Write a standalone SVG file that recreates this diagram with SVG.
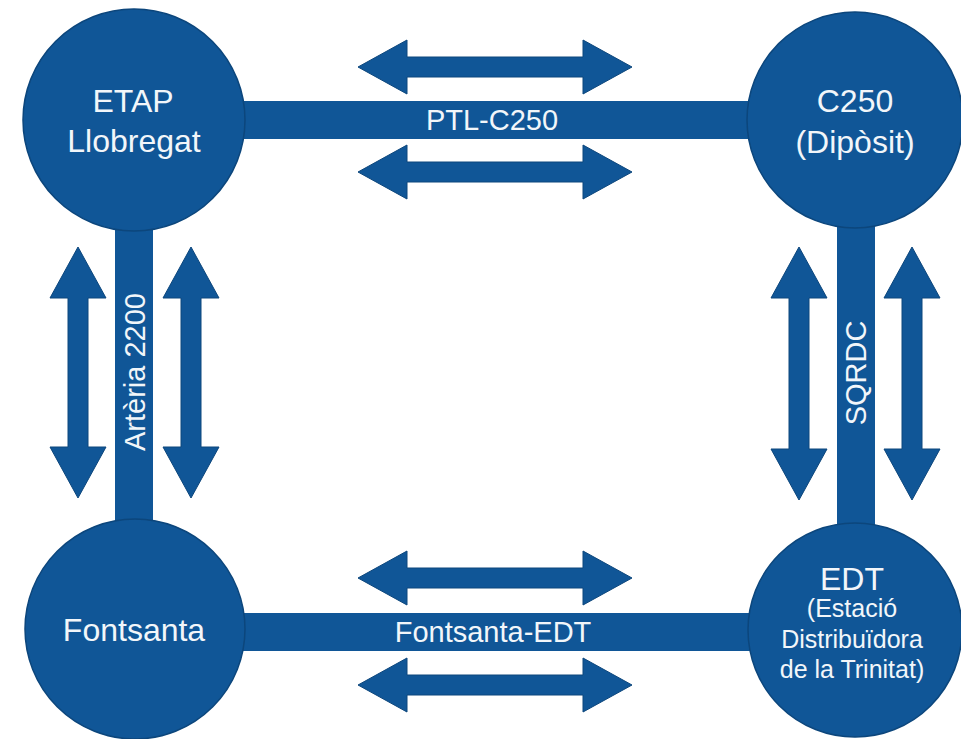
<svg xmlns="http://www.w3.org/2000/svg" width="961" height="739" viewBox="0 0 961 739">
<style>
.fill{fill:#105697}
.node{fill:#105697;stroke:#0c467c;stroke-width:1.5}
.arrow{fill:#105697;stroke:#0c467c;stroke-width:1}
.t{fill:#f2f6fa;font-family:"Liberation Sans",Arial,sans-serif;text-anchor:middle}
.big{font-size:32px}
.mid{font-size:25px}
.lab{font-size:29px}
</style>
<rect width="961" height="739" fill="#ffffff"/>
<g id="connectors">
  <g id="bar-top">
    <rect class="fill" x="200" y="101" width="600" height="38"/>
    <text class="t lab" x="492" y="130">PTL-C250</text>
  </g>
  <g id="bar-bottom">
    <rect class="fill" x="200" y="613" width="600" height="38"/>
    <text class="t lab" x="493" y="642">Fontsanta-EDT</text>
  </g>
  <g id="bar-left">
    <rect class="fill" x="115" y="200" width="38" height="340"/>
    <text class="t lab" transform="translate(145,372) rotate(-90)">Artèria 2200</text>
  </g>
  <g id="bar-right">
    <rect class="fill" x="837" y="200" width="38" height="340"/>
    <text class="t lab" transform="translate(866,373) rotate(-90)">SQRDC</text>
  </g>
  <g id="arrows">
    <path class="arrow" d="M358,67 L407,40 L407,57 L583,57 L583,40 L632,67 L583,94 L583,77 L407,77 L407,94 Z"/>
    <path class="arrow" d="M358,172 L407,145 L407,162 L583,162 L583,145 L632,172 L583,199 L583,182 L407,182 L407,199 Z"/>
    <path class="arrow" d="M358,578 L407,551 L407,568 L583,568 L583,551 L632,578 L583,605 L583,588 L407,588 L407,605 Z"/>
    <path class="arrow" d="M358,685 L407,658 L407,675 L583,675 L583,658 L632,685 L583,712 L583,695 L407,695 L407,712 Z"/>
    <path class="arrow" d="M78,247 L106,298 L88,298 L88,447 L106,447 L78,498 L50,447 L68,447 L68,298 L50,298 Z"/>
    <path class="arrow" d="M191,247 L219,298 L201,298 L201,447 L219,447 L191,498 L163,447 L181,447 L181,298 L163,298 Z"/>
    <path class="arrow" d="M799,247 L827,298 L809,298 L809,449 L827,449 L799,500 L771,449 L789,449 L789,298 L771,298 Z"/>
    <path class="arrow" d="M912,247 L940,298 L922,298 L922,449 L940,449 L912,500 L884,449 L902,449 L902,298 L884,298 Z"/>
  </g>
</g>
<g id="node-etap">
  <circle class="node" cx="134" cy="120" r="111"/>
  <text class="t big" x="133" y="112">ETAP</text>
  <text class="t big" x="134" y="152">Llobregat</text>
</g>
<g id="node-c250">
  <circle class="node" cx="855" cy="120" r="108"/>
  <text class="t big" x="855" y="112">C250</text>
  <text class="t big" x="855" y="153">(Dipòsit)</text>
</g>
<g id="node-fontsanta">
  <circle class="node" cx="135" cy="629" r="110"/>
  <text class="t big" x="134" y="641">Fontsanta</text>
</g>
<g id="node-edt">
  <circle class="node" cx="855" cy="630" r="107"/>
  <text class="t big" x="852" y="590">EDT</text>
  <text class="t mid" x="852" y="617">(Estació</text>
  <text class="t mid" x="852" y="648">Distribuïdora</text>
  <text class="t mid" x="852" y="678">de la Trinitat)</text>
</g>
</svg>
